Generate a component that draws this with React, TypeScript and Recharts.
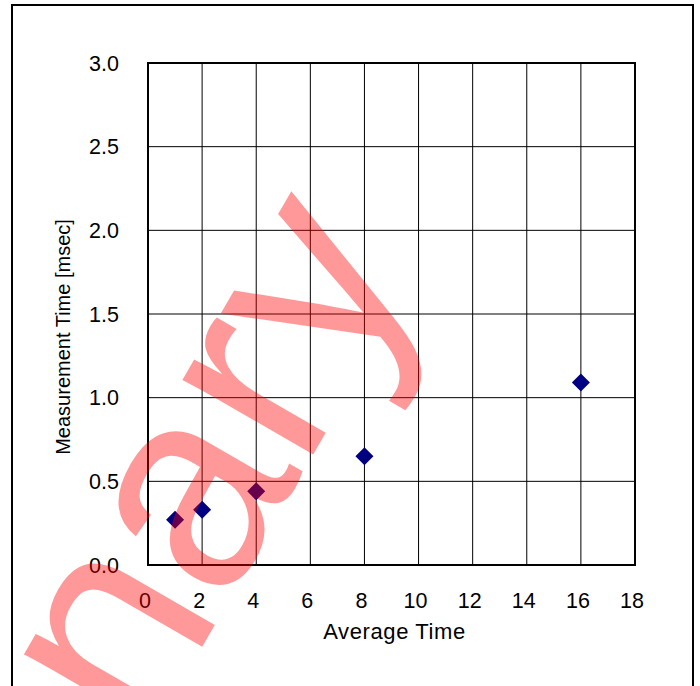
import {
  ScatterChart,
  Scatter,
  XAxis,
  YAxis,
  CartesianGrid,
  ReferenceArea,
} from 'recharts';

const averageTimes = [1, 2, 4, 8, 16];
const measurementTimes = [0.27, 0.33, 0.44, 0.65, 1.09];
const xTicks = [0, 2, 4, 6, 8, 10, 12, 14, 16, 18];
const yTicks = [0, 0.5, 1.0, 1.5, 2.0, 2.5, 3.0];

const points = averageTimes.map((x, i) => ({ x, y: measurementTimes[i] }));

const FONT = '"Liberation Sans", Arial, sans-serif';

function Diamond(props: any) {
  const { cx, cy } = props;
  const r = 9;
  return (
    <polygon
      points={`${cx},${cy - r} ${cx + r},${cy} ${cx},${cy + r} ${cx - r},${cy}`}
      fill="#000080"
    />
  );
}

function YTitle(props: any) {
  const { viewBox } = props;
  const x = 70;
  const y = viewBox.y + viewBox.height / 2 + 23;
  return (
    <text
      x={x}
      y={y}
      transform={`rotate(-90 ${x} ${y})`}
      textAnchor="middle"
      fontSize={20}
      fontFamily={FONT}
      fill="#000"
    >
      Measurement Time [msec]
    </text>
  );
}

function XTitle(props: any) {
  const { viewBox } = props;
  const x = viewBox.x + viewBox.width / 2 + 3;
  return (
    <text
      x={x}
      y={639}
      textAnchor="middle"
      fontSize={22}
      letterSpacing={0.6}
      fontFamily={FONT}
      fill="#000"
    >
      Average Time
    </text>
  );
}

export default function App() {
  return (
    <div style={{ position: 'absolute', left: 0, top: 0, width: 700, height: 686, overflow: 'hidden', background: '#fff' }}>
      <div
        style={{
          position: 'absolute',
          left: 11,
          top: 4,
          width: 683,
          height: 720,
          border: '2px solid #000',
          boxSizing: 'border-box',
        }}
      />
      <div style={{ position: 'absolute', left: 0, top: 0 }}>
        <ScatterChart
          width={700}
          height={686}
          margin={{ top: 63, right: 65, bottom: 41, left: 68 }}
          style={{ fontFamily: FONT }}
        >
          <CartesianGrid stroke="#000" strokeWidth={1} />
          <XAxis
            type="number"
            dataKey="x"
            domain={[0, 18]}
            ticks={xTicks}
            height={80}
            axisLine={false}
            tickLine={false}
            tickSize={0}
            tickMargin={28}
            tick={{ fill: '#000', fontSize: 21.5, dx: -3 }}
            label={<XTitle />}
          />
          <YAxis
            type="number"
            dataKey="y"
            domain={[0, 3]}
            ticks={yTicks}
            width={80}
            axisLine={false}
            tickLine={false}
            tickSize={0}
            tickMargin={29}
            tickFormatter={(v: number) => v.toFixed(1)}
            tick={{ fill: '#000', fontSize: 21.5 }}
            label={<YTitle />}
          />
          <ReferenceArea x1={0} x2={18} y1={0} y2={3} fill="none" stroke="#000" strokeWidth={2} fillOpacity={0} />
          <Scatter data={points} shape={<Diamond />} isAnimationActive={false} />
        </ScatterChart>
      </div>
      <svg
        width={700}
        height={686}
        style={{ position: 'absolute', left: 0, top: 0, pointerEvents: 'none' }}
      >
        <text
          x={422}
          y={266}
          textAnchor="end"
          transform="rotate(-60 422 266)"
          fontSize={285}
          fontFamily={FONT}
          fill="#ff0000"
          fillOpacity={0.4}
        >
          Preliminary
        </text>
      </svg>
    </div>
  );
}
